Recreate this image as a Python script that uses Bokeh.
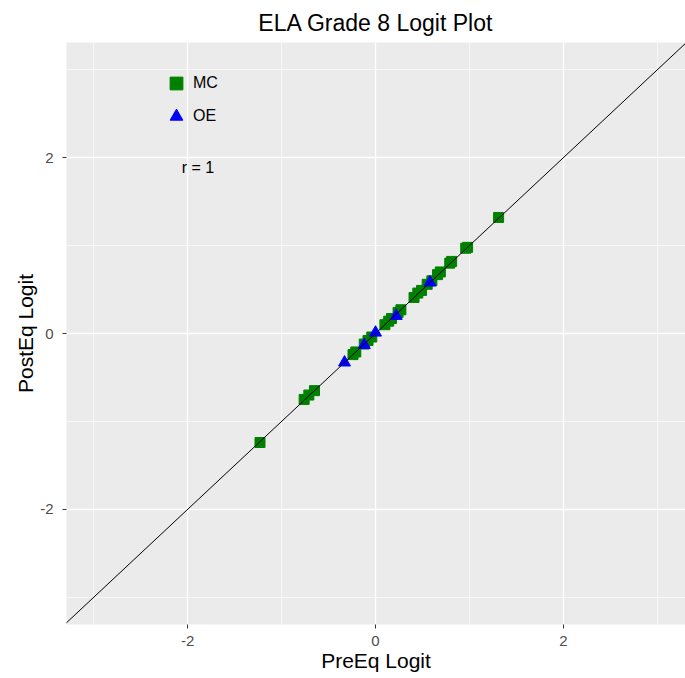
from bokeh.plotting import figure
from bokeh.models import FixedTicker, Slope, Legend, LegendItem, ColumnDataSource
from bokeh.core.properties import value
from bokeh.embed import file_html
from bokeh.resources import INLINE

# --- data ---
mc_pre = [1.31, 0.98, 0.96, 0.81, 0.79, 0.69, 0.66, 0.60, 0.55, 0.49, 0.45, 0.41,
          0.27, 0.24, 0.17, 0.14, 0.10, -0.04, -0.08, -0.12, -0.21, -0.24,
          -0.65, -0.71, -0.76, -1.23]
mc_post = [1.32, 0.98, 0.97, 0.82, 0.80, 0.70, 0.67, 0.60, 0.56, 0.49, 0.46, 0.41,
           0.27, 0.24, 0.17, 0.14, 0.10, -0.04, -0.08, -0.12, -0.21, -0.24,
           -0.65, -0.70, -0.75, -1.24]
oe_pre = [-0.33, -0.12, 0.00, 0.22, 0.58]
oe_post = [-0.33, -0.13, 0.01, 0.20, 0.58]
r_label = "r = 1"
r_pos = (-1.89, 1.89)
x_ticks = [-2, 0, 2]
minor_ticks = [-3, -1, 1, 3]
tick_labels = {-2: "-2", 0: "0", 2: "2"}

FONT = "Liberation Sans"

p = figure(width=685, height=678, output_backend="svg", toolbar_location=None,
           x_range=(-3.29, 3.30), y_range=(-3.31, 3.31),
           min_border_left=66, min_border_right=0, min_border_top=42,
           min_border_bottom=54, background_fill_color="#EBEBEB",
           border_fill_color="white", outline_line_color=None)

p.title.text = "ELA Grade 8 Logit Plot"
p.title.align = "center"
p.title.text_font = FONT
p.title.text_font_size = "23px"
p.title.text_font_style = "normal"
p.title.text_color = "black"
p.title.text_line_height = 1.0
p.title.standoff = 14

for ax in (p.xaxis, p.yaxis):
    ax.ticker = FixedTicker(ticks=x_ticks, minor_ticks=minor_ticks)
    ax.major_label_overrides = tick_labels
    ax.axis_line_color = None
    ax.major_tick_line_color = "#333333"
    ax.major_tick_in = 0
    ax.major_tick_out = 4
    ax.minor_tick_line_color = None
    ax.major_label_text_font = FONT
    ax.major_label_text_font_size = "15px"
    ax.major_label_text_color = "#4D4D4D"
    ax.axis_label_text_font = FONT
    ax.axis_label_text_font_size = "21px"
    ax.axis_label_text_font_style = "normal"
    ax.axis_label_text_color = "black"

p.xaxis.major_label_standoff = 7
p.yaxis.major_label_standoff = 9
p.xaxis.axis_label = "PreEq Logit"
p.yaxis.axis_label = "PostEq Logit"
p.xaxis.axis_label_standoff = 0
p.yaxis.axis_label_standoff = 0

for g in (p.xgrid, p.ygrid):
    g.grid_line_color = "white"
    g.grid_line_width = 1.3
    g.minor_grid_line_color = "white"
    g.minor_grid_line_width = 0.6

p.add_layout(Slope(gradient=1, y_intercept=0, line_color="black", line_width=1))

mc_src = ColumnDataSource(dict(x=mc_pre, y=mc_post))
oe_src = ColumnDataSource(dict(x=oe_pre, y=oe_post))
r_mc = p.scatter("x", "y", source=mc_src, marker="square", size=10,
                 fill_color="#008000", line_color="#008000")
r_oe = p.scatter("x", "y", source=oe_src, marker="triangle", size=12,
                 fill_color="#0000FF", line_color="#0000FF")

p.text(x=[r_pos[0]], y=[r_pos[1]], text=[r_label], text_font=value(FONT),
       text_font_size="16px", text_align="center", text_baseline="middle",
       text_color="black")

legend = Legend(items=[LegendItem(label="MC", renderers=[r_mc]),
                       LegendItem(label="OE", renderers=[r_oe])],
                location=(94, 492))
legend.background_fill_alpha = 0
legend.border_line_alpha = 0
legend.label_text_font = FONT
legend.label_text_font_size = "16px"
legend.label_text_color = "black"
legend.glyph_width = 32
legend.glyph_height = 32
legend.spacing = 1
legend.label_standoff = 1
legend.margin = 0
legend.padding = 0
p.add_layout(legend)

open("out.html", "w").write(file_html(p, INLINE))
